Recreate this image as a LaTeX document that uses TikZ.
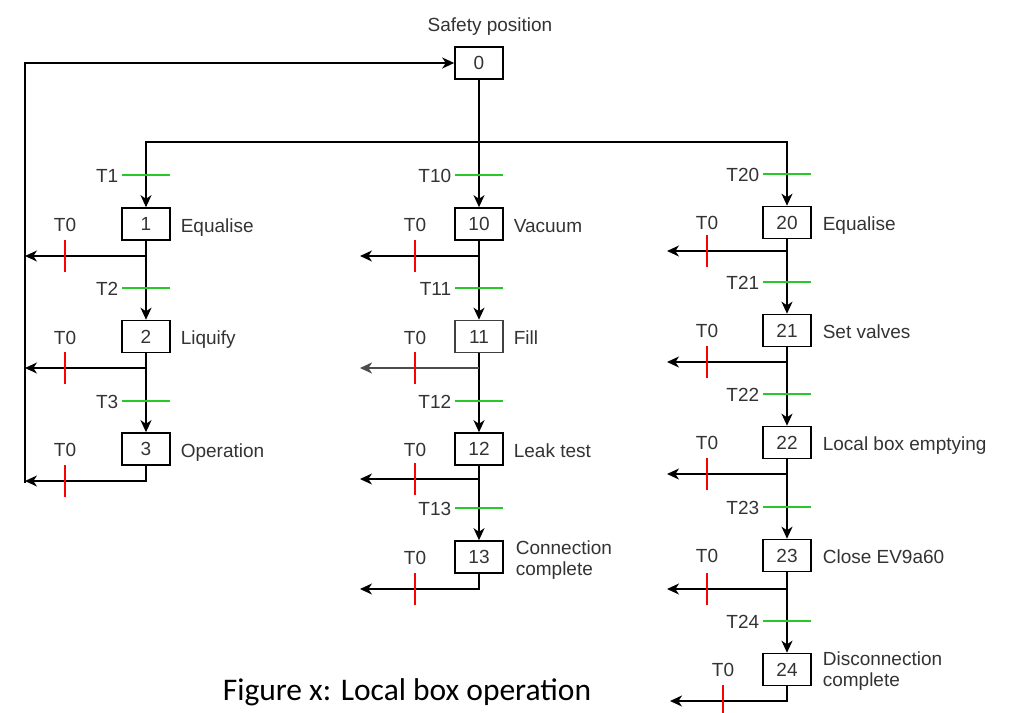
\documentclass[tikz,border=0pt]{standalone}
\usepackage{fontspec}
\setmainfont{Liberation Sans}
\newfontfamily\capfont{Carlito}
\usetikzlibrary{arrows.meta}
\definecolor{tgreen}{RGB}{40,200,40}
\definecolor{tred}{RGB}{255,0,0}
\definecolor{txt}{RGB}{51,51,51}
\newcommand\gtrans[3]{%
  \draw[trans] (#1-24,#2) -- (#1+24,#2);
  \node[lbl,anchor=base east] (lab#3) at (#1-27,#2+7.5) {#3};}
\newcommand\redstop[4]{%
  \draw[stopmark] (#1,#2-16) -- (#1,#2+16);
  \node[lbl,anchor=base] (#4) at (#1,#3) {T0};}
\begin{document}
\begin{tikzpicture}[x=0.5pt,y=-0.5pt,line width=0.8pt,
  tip/.style={-{Stealth[length=6pt,width=5.5pt,inset=1.8pt]}},
  twotip/.style={{Stealth[length=6pt,width=5.5pt,inset=1.8pt]}-{Stealth[length=6pt,width=5.5pt,inset=1.8pt]}},
  state/.style={draw,minimum width=24pt,minimum height=16pt,inner sep=0pt,font=\fontsize{9.5}{11}\selectfont,text=txt},
  lbl/.style={font=\fontsize{9.5}{11}\selectfont,text=txt,inner sep=0pt},
  lbltwo/.style={lbl,align=left,font=\fontsize{9.5}{10.5}\selectfont},
  trans/.style={tgreen,line width=0.6pt},
  stopmark/.style={tred,line width=0.6pt}]
\useasboundingbox (0,0) rectangle (1010,712);

% ---------- steps ----------
\node[state] (s0) at (479,63) {0};
\node[lbl,anchor=base] (sp) at (490,32) {Safety position};

\node[state] (s1) at (146,224) {1};
\node[state] (s2) at (146,336.5) {2};
\node[state] (s3) at (146,449) {3};

\node[state] (s10) at (479,224) {10};
\node[state,draw=black!75] (s11) at (479,336.5) {11};
\node[state] (s12) at (479,449) {12};
\node[state] (s13) at (479,557) {13};

\node[state] (s20) at (787,222.5) {20};
\node[state] (s21) at (787,330.5) {21};
\node[state] (s22) at (787,442.5) {22};
\node[state] (s23) at (787,555.5) {23};
\node[state] (s24) at (787,669.5) {24};

% ---------- step names ----------
\node[lbl,anchor=base west] (n1) at (180,232) {Equalise};
\node[lbl,anchor=base west] (n2) at (180,344.5) {Liquify};
\node[lbl,anchor=base west] (n3) at (180,457) {Operation};
\node[lbl,anchor=base west] (n10) at (513,232) {Vacuum};
\node[lbl,anchor=base west] (n11) at (513,344.5) {Fill};
\node[lbl,anchor=base west] (n12) at (513,457) {Leak test};
\node[lbltwo,anchor=north west] (n13) at (515,540) {Connection\\complete};
\node[lbl,anchor=base west] (n20) at (822,230.5) {Equalise};
\node[lbl,anchor=base west] (n21) at (822,338.5) {Set valves};
\node[lbl,anchor=base west] (n22) at (822,450.5) {Local box emptying};
\node[lbl,anchor=base west] (n23) at (822,563.5) {Close EV9a60};
\node[lbltwo,anchor=north west] (n24) at (822,651) {Disconnection\\complete};

% ---------- divergence ----------
\coordinate (d1) at (146,142);
\coordinate (d3) at (787,142);
\draw[twotip] (s1.north) -- (d1) -- (d3) -- (s20.north);
\draw[tip] (s0) -- (s10);

% ---------- sequences ----------
\draw[tip] (s1) -- (s2);
\draw[tip] (s2) -- (s3);
\draw[tip] (s10) -- (s11);
\draw[tip] (s11) -- (s12);
\draw[tip] (s12) -- (s13);
\draw[tip] (s20) -- (s21);
\draw[tip] (s21) -- (s22);
\draw[tip] (s22) -- (s23);
\draw[tip] (s23) -- (s24);

% ---------- emergency branches, column 1 ----------
\coordinate (b1) at (146,256);  \coordinate (e1) at (25,256);
\coordinate (b2) at (146,368);  \coordinate (e2) at (25,368);
\coordinate (e3) at (25,481);   \coordinate (e3b) at (25,483);
\draw[tip] (b1) -- (e1);
\draw[tip] (b2) -- (e2);
\draw[tip] (s3.south) |- (e3);
\draw[tip] (e3b) |- (s0.west);

% ---------- emergency branches, column 2 ----------
\coordinate (b10) at (479,256); \coordinate (e10) at (360,256);
\coordinate (b11) at (479,368); \coordinate (e11) at (360,368);
\coordinate (b12) at (479,479); \coordinate (e12) at (360,479);
\coordinate (e13) at (360,589);
\draw[tip] (b10) -- (e10);
\draw[tip,draw=black!70,fill=black!70,line width=1.1pt] (b11) -- (e11);
\draw[tip] (b12) -- (e12);
\draw[tip] (s13.south) |- (e13);

% ---------- emergency branches, column 3 ----------
\coordinate (b20) at (787,251); \coordinate (e20) at (667,251);
\coordinate (b21) at (787,362); \coordinate (e21) at (667,362);
\coordinate (b22) at (787,474); \coordinate (e22) at (667,474);
\coordinate (b23) at (787,589); \coordinate (e23) at (667,589);
\coordinate (e24) at (670,701);
\draw[tip] (b20) -- (e20);
\draw[tip] (b21) -- (e21);
\draw[tip] (b22) -- (e22);
\draw[tip] (b23) -- (e23);
\draw[tip] (s24.south) |- (e24);

% ---------- transitions ----------
\gtrans{146}{175}{T1}
\gtrans{146}{288}{T2}
\gtrans{146}{401}{T3}
\gtrans{479}{175}{T10}
\gtrans{479}{288}{T11}
\gtrans{479}{401}{T12}
\gtrans{479}{508}{T13}
\gtrans{787}{174}{T20}
\gtrans{787}{282}{T21}
\gtrans{787}{394}{T22}
\gtrans{787}{507}{T23}
\gtrans{787}{621}{T24}

% ---------- stop transitions T0 ----------
\redstop{65}{256}{231.5}{z1}
\redstop{65}{368}{344}{z2}
\redstop{65}{481}{456.5}{z3}
\redstop{415}{256}{231.5}{z10}
\redstop{415}{368}{344}{z11}
\redstop{415}{479}{456.5}{z12}
\redstop{415}{589}{564.5}{z13}
\redstop{707}{251}{229}{z20}
\redstop{707}{362}{337}{z21}
\redstop{707}{474}{449}{z22}
\redstop{707}{589}{562}{z23}
\redstop{723}{701}{676.5}{z24}

% ---------- caption ----------
\node[font=\capfont\fontsize{15.75}{18}\selectfont,inner sep=0pt,anchor=base] (cap) at (407,700) {Figure x: Local box operation};
\end{tikzpicture}
\end{document}
